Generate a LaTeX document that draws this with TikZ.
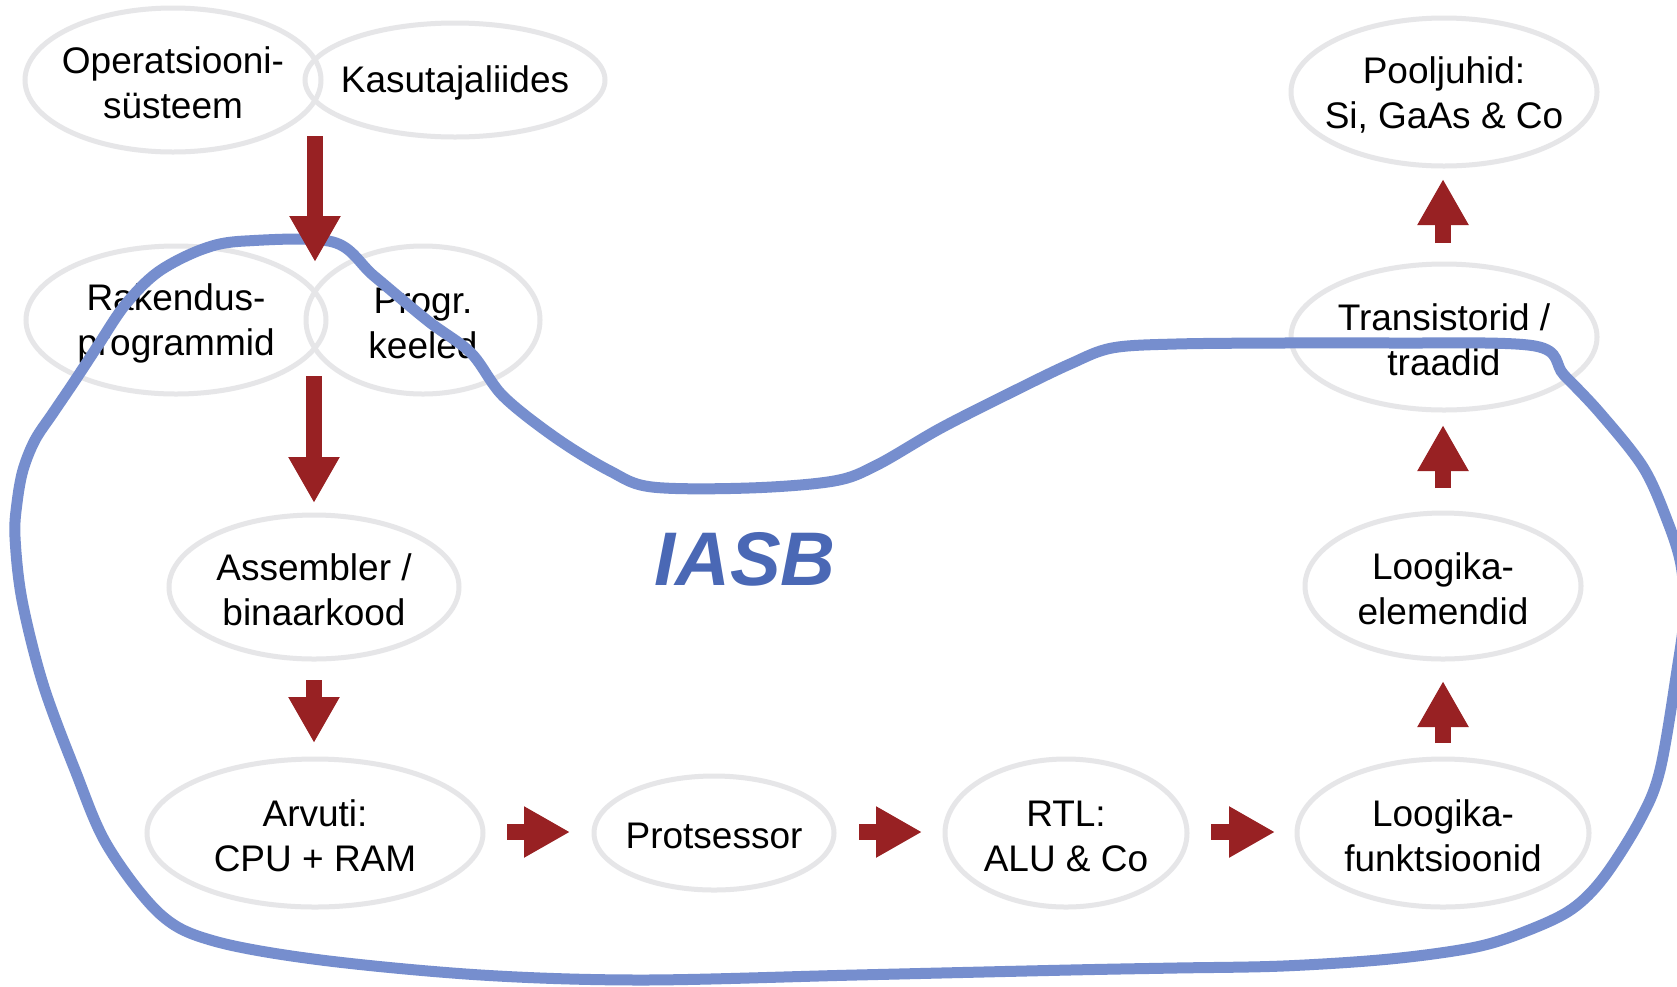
\documentclass[tikz,border=0pt]{standalone}
\usepackage{fontspec}
\setmainfont{Liberation Sans}
\usetikzlibrary{arrows.meta,shapes.geometric}
\definecolor{ellgray}{RGB}{230,230,232}
\definecolor{arrred}{RGB}{152,33,35}
\definecolor{loopblue}{RGB}{118,142,206}
\definecolor{iasbblue}{RGB}{74,104,181}
\tikzset{
 ell/.style={draw=ellgray, line width=5pt, shape=ellipse, inner sep=0pt},
 txt/.style={font=\fontsize{37}{45}\selectfont, align=center, inner sep=0pt, text=black, yshift=-3pt},
 blockarr/.style={draw=arrred, line width=16pt, -{Triangle[length=46pt,width=48pt]}},
 loopline/.style={draw=loopblue, line width=11pt},
}
\begin{document}
\begin{tikzpicture}[x=1pt,y=-1pt]
\useasboundingbox (0,0) rectangle (1677,986);
\fill[white] (0,0) rectangle (1677,986);

% ellipses
\node[ell, minimum width=296, minimum height=144] (os) at (173,80) {};
\node[ell, minimum width=300, minimum height=114] (ui) at (455,80) {};
\node[ell, minimum width=300, minimum height=148] (rp) at (176,320) {};
\node[ell, minimum width=234, minimum height=148] (pk) at (423,320) {};
\node[ell, minimum width=290, minimum height=144] (as) at (314,587) {};
\node[ell, minimum width=336, minimum height=148] (ar) at (315,833) {};
\node[ell, minimum width=240, minimum height=114] (pr) at (714,833) {};
\node[ell, minimum width=242, minimum height=148] (rtl) at (1066,833) {};
\node[ell, minimum width=292, minimum height=148] (lf) at (1443,833) {};
\node[ell, minimum width=276, minimum height=146] (le) at (1443,586) {};
\node[ell, minimum width=306, minimum height=146] (tr) at (1444,337) {};
\node[ell, minimum width=306, minimum height=148] (pj) at (1444,92) {};

% texts
\node[txt] (os-t) at (os) {Operatsiooni-\\süsteem};
\node[txt] (ui-t) at (ui) {Kasutajaliides};
\node[txt] (rp-t) at (rp) {Rakendus-\\programmid};
\node[txt] (pk-t) at (pk) {Progr.\\keeled};
\node[txt] (as-t) at (as) {Assembler /\\binaarkood};
\node[txt] (ar-t) at (ar) {Arvuti:\\CPU + RAM};
\node[txt] (pr-t) at (pr) {Protsessor};
\node[txt] (rtl-t) at (rtl) {RTL:\\ALU \& Co};
\node[txt] (lf-t) at (lf) {Loogika-\\funktsioonid};
\node[txt] (le-t) at (le) {Loogika-\\elemendid};
\node[txt] (tr-t) at (tr) {Transistorid /\\traadid};
\node[txt] (pj-t) at (pj) {Pooljuhid:\\Si, GaAs \& Co};

% IASB loop
\draw[loopline] plot[smooth cycle, tension=0.55] coordinates {
(245,241) (333,242) (374,276) (428,321) (471,353) (503,396) (556,438)
(610,471) (652,487) (749,488) (834,481) (877,465) (941,428) (1016,390) (1070,364)
(1112,348) (1176,344) (1283,343) (1390,343) (1535,346) (1564,375) (1600,413)
(1643,467) (1667,520) (1681,565) (1684,615) (1677,670) (1660,770) (1640,820)
(1604,877) (1572,909) (1529,930) (1476,947) (1390,959) (1283,966) (1176,968)
(1070,970) (856,975) (642,980) (481,975) (321,960) (214,941) (160,914) (107,845)
(75,770) (43,684) (22,600) (15,537) (17,503) (23,470) (35,440) (53,413) (74,382)
(97,347) (125,305) (158,272) (203,249)};
\node[font=\fontsize{76}{90}\selectfont\bfseries\itshape, text=iasbblue, inner sep=0pt] (iasb) at (745,559) {IASB};

% arrow end points
\coordinate (d1s) at (315,136); \coordinate (d1e) at (315,262);
\coordinate (d2s) at (314,376); \coordinate (d2e) at (314,503);
\coordinate (d3s) at (314,680); \coordinate (d3e) at (314,743);
\coordinate (r1s) at (507,832); \coordinate (r1e) at (570,832);
\coordinate (r2s) at (859,832); \coordinate (r2e) at (922,832);
\coordinate (r3s) at (1211,832); \coordinate (r3e) at (1275,832);
\coordinate (u1s) at (1443,243); \coordinate (u1e) at (1443,179);
\coordinate (u2s) at (1443,488); \coordinate (u2e) at (1443,425);
\coordinate (u3s) at (1443,743); \coordinate (u3e) at (1443,681);

\draw[blockarr] (d1s) -- (d1e);
\draw[blockarr] (d2s) -- (d2e);
\draw[blockarr] (d3s) -- (d3e);
\draw[blockarr] (r1s) -- (r1e);
\draw[blockarr] (r2s) -- (r2e);
\draw[blockarr] (r3s) -- (r3e);
\draw[blockarr] (u1s) -- (u1e);
\draw[blockarr] (u2s) -- (u2e);
\draw[blockarr] (u3s) -- (u3e);
\end{tikzpicture}
\end{document}
